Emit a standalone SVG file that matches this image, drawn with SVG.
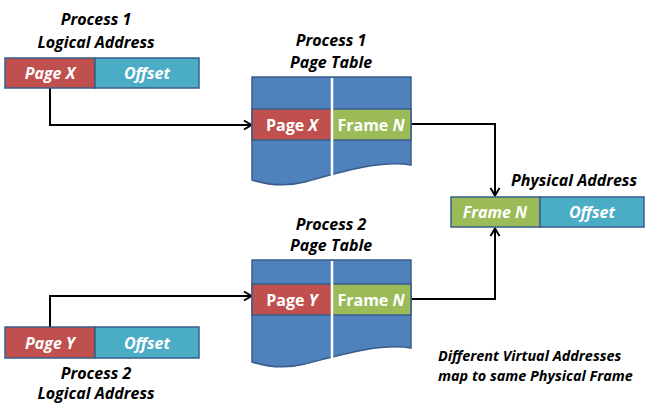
<svg xmlns="http://www.w3.org/2000/svg" width="652" height="406" viewBox="0 0 652 406">
<style>
.lbl{font-family:"Open Sans","Liberation Sans",sans-serif;font-weight:bold;font-style:italic;font-size:16px;fill:#000;text-anchor:middle}
.note{font-family:"Open Sans","Liberation Sans",sans-serif;font-weight:bold;font-style:italic;font-size:14.4px;fill:#000}
.in{font-family:"Open Sans","Liberation Sans",sans-serif;font-weight:bold;font-size:16px;fill:#fff;text-anchor:middle}
.it{font-style:italic}
.red{fill:#C0504D;stroke:#385D8A;stroke-width:1.5}
.teal{fill:#4BACC6;stroke:#385D8A;stroke-width:1.5}
.green{fill:#9BBB59;stroke:#385D8A;stroke-width:1.5}
.tbl{fill:#4F81BD;stroke:#385D8A;stroke-width:1.5}
.div{stroke:#fff;stroke-width:2.5}
.conn{fill:none;stroke:#000;stroke-width:2}
</style>
<defs>
<marker id="a" viewBox="0 0 12 12" refX="11" refY="6" markerWidth="12" markerHeight="12" orient="auto" markerUnits="userSpaceOnUse">
<path d="M3,1.5 L10.5,6 L3,10.5" fill="none" stroke="#000" stroke-width="2"/>
</marker>
</defs>

<g id="connectors">
<path class="conn" d="M50,88 V125 H252" marker-end="url(#a)"/>
<path class="conn" d="M411,124 H495 V196" marker-end="url(#a)"/>
<path class="conn" d="M50,327 V296 H252" marker-end="url(#a)"/>
<path class="conn" d="M411,299 H495 V228" marker-end="url(#a)"/>
</g>

<g id="p1-logical">
<text class="lbl" x="96" y="25">Process 1</text>
<text class="lbl" x="96" y="48">Logical Address</text>
<rect class="red" x="5" y="58" width="90" height="30"/>
<rect class="teal" x="95" y="58" width="104" height="30"/>
<text class="in it" x="50" y="79">Page X</text>
<text class="in it" x="147" y="79">Offset</text>
</g>

<g id="p1-table">
<text class="lbl" x="331" y="46">Process 1</text>
<text class="lbl" x="331" y="68">Page Table</text>
<path class="tbl" d="M252,77 H411 V165 C380,160 340,172 305,182 C285,187 268,185 252,180 Z"/>
<rect class="red" x="252" y="109" width="80" height="31"/>
<rect class="green" x="332" y="109" width="79" height="31"/>
<line class="div" x1="332" y1="78" x2="332" y2="177"/>
<text class="in" x="292" y="130.5">Page <tspan class="it">X</tspan></text>
<text class="in" x="371" y="130.5">Frame <tspan class="it">N</tspan></text>
</g>

<g id="physical">
<text class="lbl" x="574" y="186">Physical Address</text>
<rect class="green" x="451" y="197" width="89" height="30"/>
<rect class="teal" x="540" y="197" width="104" height="30"/>
<text class="in it" x="495" y="218">Frame N</text>
<text class="in it" x="592" y="218">Offset</text>
</g>

<g id="p2-table">
<text class="lbl" x="331" y="230">Process 2</text>
<text class="lbl" x="331" y="251">Page Table</text>
<path class="tbl" d="M252,260 H411 V348 C380,343 340,355 305,364 C285,369 268,367 252,362 Z"/>
<rect class="red" x="252" y="284" width="80" height="31"/>
<rect class="green" x="332" y="284" width="79" height="31"/>
<line class="div" x1="332" y1="261" x2="332" y2="359"/>
<text class="in" x="292" y="305.5">Page <tspan class="it">Y</tspan></text>
<text class="in" x="371" y="305.5">Frame <tspan class="it">N</tspan></text>
</g>

<g id="p2-logical">
<rect class="red" x="5" y="327" width="90" height="31"/>
<rect class="teal" x="95" y="327" width="104" height="31"/>
<text class="in it" x="50" y="348.5">Page Y</text>
<text class="in it" x="147" y="348.5">Offset</text>
<text class="lbl" x="96" y="379">Process 2</text>
<text class="lbl" x="96" y="399">Logical Address</text>
</g>

<g id="note">
<text class="note" x="438" y="361">Different Virtual Addresses</text>
<text class="note" x="438" y="381">map to same Physical Frame</text>
</g>
</svg>
